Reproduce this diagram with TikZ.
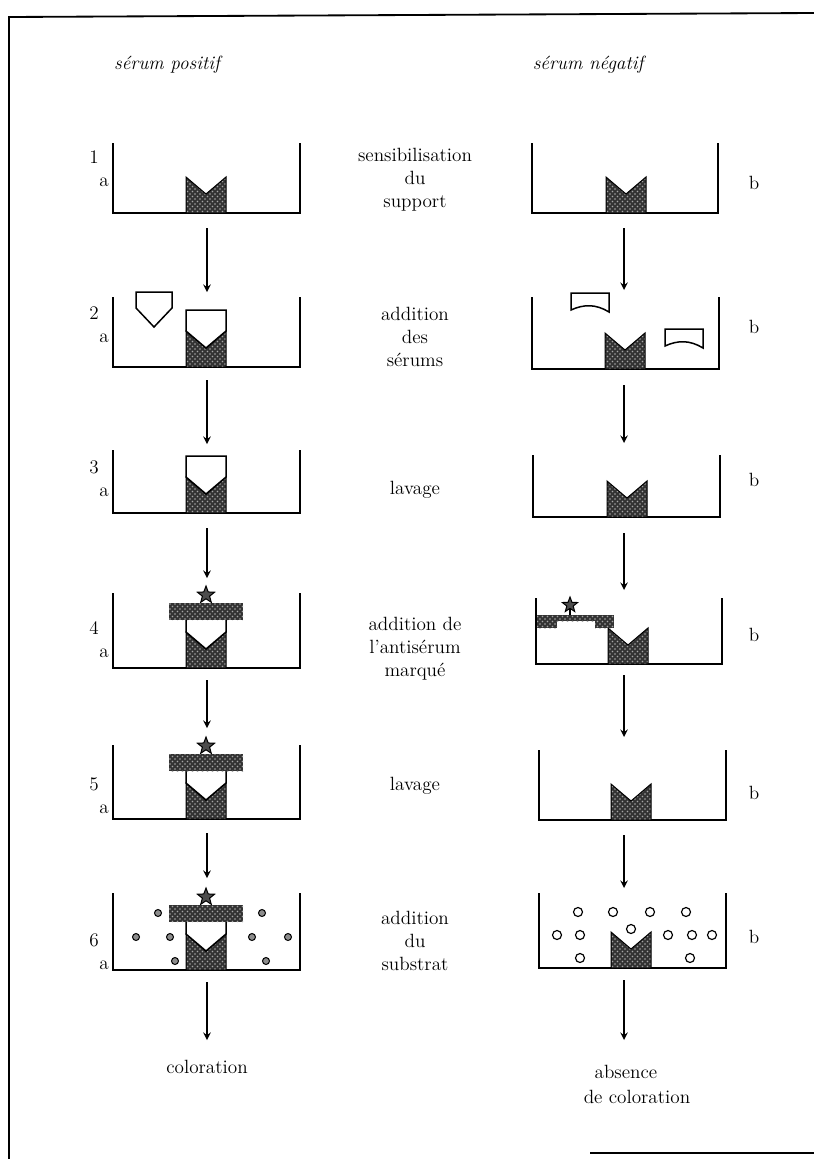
\documentclass[tikz,border=0pt]{standalone}
\usepackage{amsmath}
\usepackage{tikz}
\usetikzlibrary{patterns}

% puits : bord gauche, bord droit, haut, fond
\newcommand{\Puits}[4]{%
  \draw[wall] (#1,#3) -- (#1,#4) -- (#2,#4) -- (#2,#3);
}
% antigene fixe au fond (centre, fond)
\newcommand{\Antigene}[2]{%
  \draw[grain, line width=0.6pt] ({#1-20},#2) -- ({#1-20},{#2-36}) -- (#1,{#2-19})
     -- ({#1+20},{#2-36}) -- ({#1+20},#2) -- cycle;
}
% anticorps lie sur l'antigene
\newcommand{\Anticorps}[2]{%
  \filldraw[fill=white, line width=0.9pt] ({#1-20},{#2-36}) -- ({#1-20},{#2-57})
     -- ({#1+20},{#2-57}) -- ({#1+20},{#2-36}) -- (#1,{#2-19}) -- cycle;
}
% anticorps libre (centre, haut)
\newcommand{\AnticorpsLibre}[2]{%
  \filldraw[fill=white, line width=0.9pt] ({#1-18},#2) -- ({#1+18},#2) -- ({#1+18},{#2+16})
     -- (#1,{#2+35}) -- ({#1-18},{#2+16}) -- cycle;
}
% anticorps non specifique (centre, haut)
\newcommand{\Autre}[2]{%
  \filldraw[fill=white, line width=0.9pt] ({#1-19},#2) -- ({#1+19},#2) -- ({#1+19},{#2+19})
     .. controls ({#1+6},{#2+11}) and ({#1-6},{#2+11}) .. ({#1-19},{#2+17}) -- cycle;
}
% etoile (centre x, centre y, rayon)
\newcommand{\Etoile}[3]{%
  \filldraw[fill=black!70, line width=0.6pt] plot[samples at={0,...,9}, variable=\k]
     ({#1+ifthenelse(mod(\k,2)==0,#3,0.42*#3)*cos(-90+36*\k)},
      {#2+ifthenelse(mod(\k,2)==0,#3,0.42*#3)*sin(-90+36*\k)}) -- cycle;
}
% antiserum marque pose sur l'anticorps
\newcommand{\Marque}[2]{%
  \fill[grain] ({#1-37},{#2-65}) rectangle ({#1+37},{#2-48});
  \Etoile{#1}{#2-73}{9}
}

\begin{document}
\begin{tikzpicture}[x=0.6pt, y=-0.6pt, >=stealth,
    grain/.style={preaction={fill=black!80}, pattern=crosshatch dots, pattern color=black!35},
    wall/.style={line width=1.5pt},
    txt/.style={font=\fontsize{11.5}{13.8}\selectfont, align=center, inner sep=0pt},
    ttl/.style={font=\fontsize{11.5}{13.8}\selectfont\itshape, inner sep=0pt},
    fleche/.style={line width=1pt, ->}]

  \useasboundingbox (0,0) rectangle (814,1159);

  % cadre
  \draw[line width=1.1pt] (9,1159) -- (9,17) -- (814,13);
  \draw[line width=1.1pt] (590,1153) -- (814,1153);

  \node[ttl] (pos) at (167,65) {sérum positif};
  \node[ttl] (neg) at (588,65) {sérum négatif};

  % colonne a : serum positif
  \foreach \t/\f in {143/213, 297/367, 450/513, 593/668, 745/819, 893/970} {
    \Puits{113}{300}{\t}{\f}
    \Antigene{206}{\f}
  }
  \foreach \f in {367, 513, 668, 819, 970} {
    \Anticorps{206}{\f}
  }
  \foreach \f in {668, 819, 970} {
    \Marque{206}{\f}
  }
  \AnticorpsLibre{154}{292}

  % substrat colore
  \foreach \x/\y in {158/913, 136/937, 170/937, 175/961, 262/913, 252/937, 288/937, 266/961} {
    \filldraw[fill=black!45, line width=0.6pt] (\x,\y) circle (3.5);
  }

  % colonne b : serum negatif
  \foreach \c/\l/\r/\t/\f in {626/532/718/143/213, 625/532/719/297/369, 627/533/720/455/517,
                               628/536/722/598/664, 631/539/726/750/820, 631/539/726/893/968} {
    \Puits{\l}{\r}{\t}{\f}
    \Antigene{\c}{\f}
  }
  \Autre{590}{293}
  \Autre{684}{329}

  % antiserum marque reste libre
  \fill[grain] (537,615) rectangle (557,628);
  \fill[grain] (557,615) rectangle (595,621);
  \fill[grain] (595,615) rectangle (614,628);
  \draw[line width=0.8pt] (570,607) -- (570,615);
  \Etoile{570}{605}{8}

  % substrat non transforme
  \foreach \x/\y in {578/912, 613/912, 650/912, 686/912, 557/935, 580/935, 631/929,
                     668/935, 692/935, 712/935, 580/958, 690/958} {
    \draw[line width=0.7pt] (\x,\y) circle (4.5);
  }

  % numeros des etapes
  \foreach \n/\y in {1/157, 2/313, 3/467, 4/628, 5/784, 6/940} {
    \node[txt] (num\n) at (94,\y) {\n};
    \node[txt] (a\n) at (104,{\y+25}) {a};
  }
  \foreach \n/\y in {1/183, 2/327, 3/480, 4/635, 5/793, 6/937} {
    \node[txt] (b\n) at (754,\y) {b};
  }

  % etapes
  \node[txt] (et1) at (415,180) {sensibilisation\\du\\support};
  \node[txt] (et2) at (415,337) {addition\\des\\sérums};
  \node[txt] (et3) at (415,490) {lavage};
  \node[txt] (et4) at (415,649) {addition de\\l'antisérum\\marqué};
  \node[txt] (et5) at (415,786) {lavage};
  \node[txt] (et6) at (415,941) {addition\\du\\substrat};

  \node[txt] (colo) at (207,1067) {coloration};
  \node[txt] (abs) at (626,1072) {absence};
  \node[txt] (deco) at (637,1097) {de coloration};

  % fleches
  \foreach \i/\s/\e in {1/228/292, 2/380/444, 3/528/578, 4/680/728, 5/833/878, 6/982/1040} {
    \coordinate (ga\i) at (207,\s);
    \coordinate (gb\i) at (207,\e);
    \draw[fleche] (ga\i) -- (gb\i);
  }
  \foreach \i/\s/\e in {1/228/290, 2/385/443, 3/533/590, 4/675/737, 5/835/888, 6/980/1040} {
    \coordinate (da\i) at (624,\s);
    \coordinate (db\i) at (624,\e);
    \draw[fleche] (da\i) -- (db\i);
  }
\end{tikzpicture}
\end{document}
